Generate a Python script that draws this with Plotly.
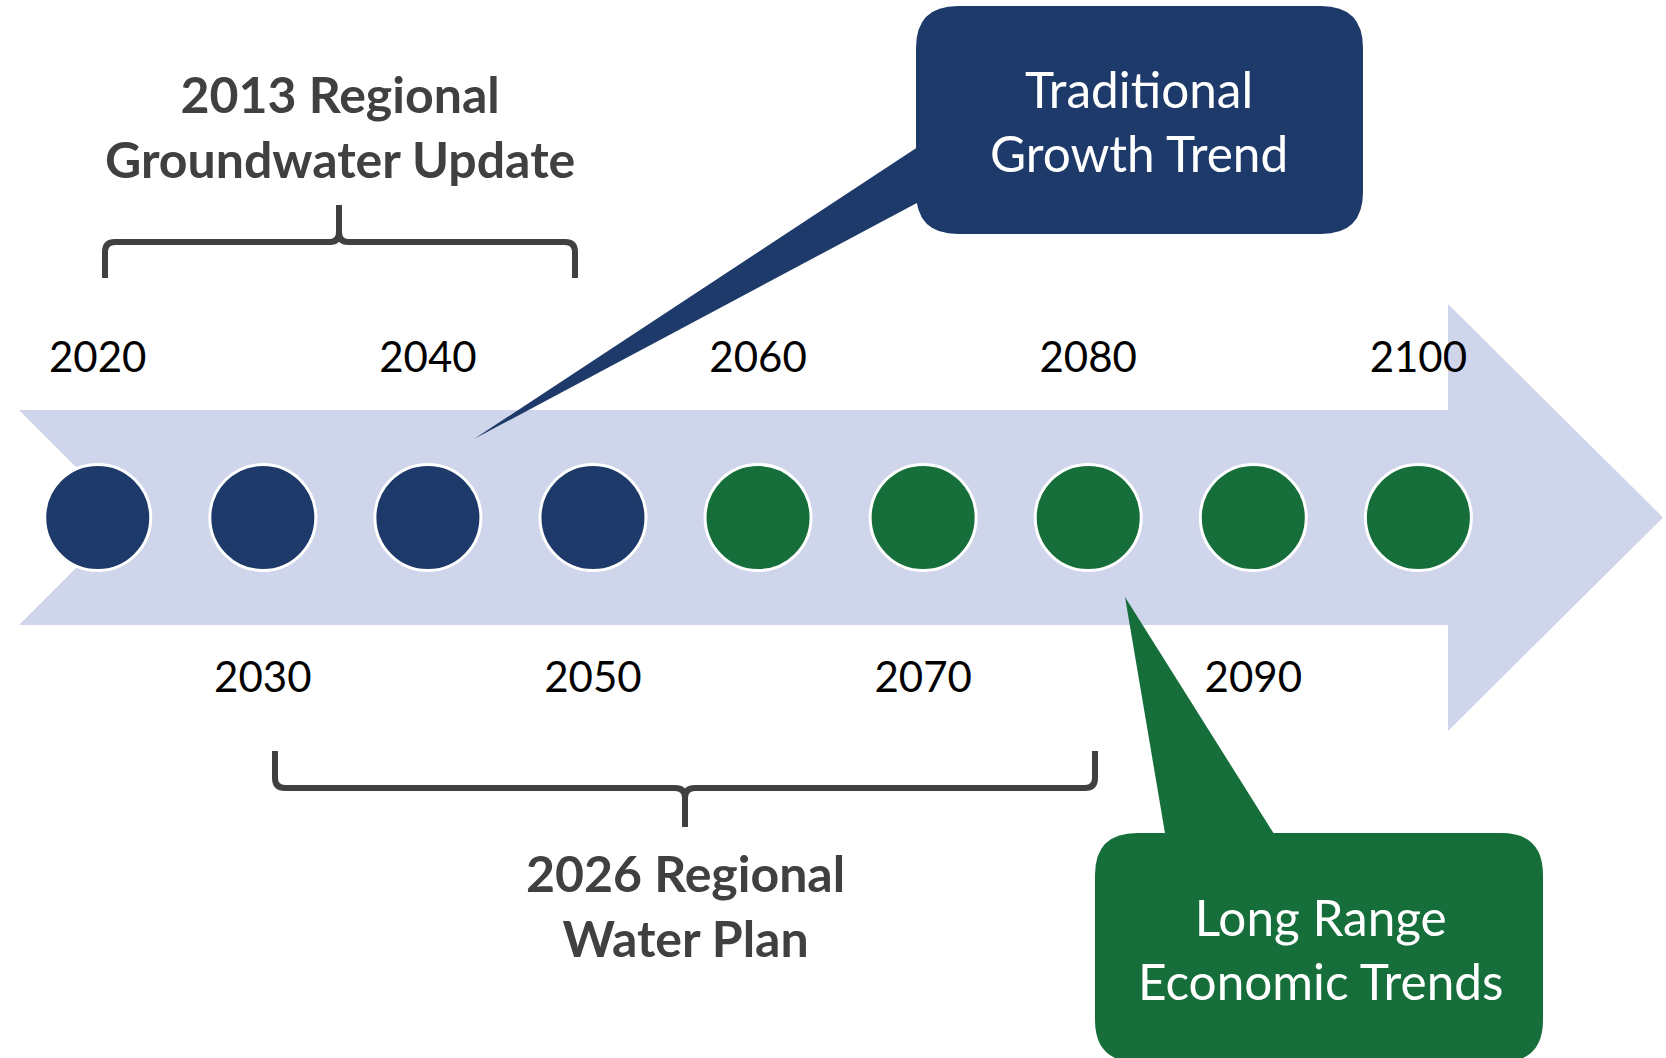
import plotly.graph_objects as go

W, H = 1666, 1058

# Timeline milestones
years = [2020, 2030, 2040, 2050, 2060, 2070, 2080, 2090, 2100]
phase = ["Traditional"] * 4 + ["Long Range"] * 5
phase_colors = {"Traditional": "#1D3A6A", "Long Range": "#166E3A"}
top_years = [2020, 2040, 2060, 2080, 2100]
bottom_years = [2030, 2050, 2070, 2090]
brace_labels = ["2013 Regional<br>Groundwater Update", "2026 Regional<br>Water Plan"]
callout_labels = ["Traditional<br>Growth Trend", "Long Range<br>Economic Trends"]

ARROW = "#CFD5EA"
GREY = "#404040"
FONT = "Lato"

# vertical layout (pixel rows)
Y_AXIS = 517.5
Y_TOP_LABEL = 361
Y_BOTTOM_LABEL = 681

fig = go.Figure()

# milestone circles
fig.add_trace(go.Scatter(
    x=years, y=[Y_AXIS] * len(years), mode="markers",
    marker=dict(size=106, color=[phase_colors[p] for p in phase],
                line=dict(color="white", width=3)),
    hoverinfo="skip", showlegend=False,
))

# year labels above and below the arrow
fig.add_trace(go.Scatter(
    x=top_years, y=[Y_TOP_LABEL] * len(top_years), mode="text",
    text=[str(y) for y in top_years], textposition="middle center",
    textfont=dict(family=FONT, size=42, color="#000000"),
    hoverinfo="skip", showlegend=False,
))
fig.add_trace(go.Scatter(
    x=bottom_years, y=[Y_BOTTOM_LABEL] * len(bottom_years), mode="text",
    text=[str(y) for y in bottom_years], textposition="middle center",
    textfont=dict(family=FONT, size=42, color="#000000"),
    hoverinfo="skip", showlegend=False,
))


def rounded_rect(x0, y0, x1, y1, r):
    return (f"M {x0+r},{y0} L {x1-r},{y0} Q {x1},{y0} {x1},{y0+r} "
            f"L {x1},{y1-r} Q {x1},{y1} {x1-r},{y1} L {x0+r},{y1} "
            f"Q {x0},{y1} {x0},{y1-r} L {x0},{y0+r} Q {x0},{y0} {x0+r},{y0} Z")


shapes = []
# big background arrow
shapes.append(dict(
    type="path", xref="x2", yref="y", layer="below",
    path=("M 19,410 L 1448,410 L 1448,304 L 1663,517.5 L 1448,731 "
          "L 1448,625 L 19,625 L 126.5,517.5 Z"),
    fillcolor=ARROW, line=dict(width=0),
))
# navy callout
navy = phase_colors["Traditional"]
shapes.append(dict(type="path", xref="x2", yref="y", layer="below",
                   path="M 930,139 L 930,196 L 474,439 Z",
                   fillcolor=navy, line=dict(width=0)))
shapes.append(dict(type="path", xref="x2", yref="y", layer="below",
                   path=rounded_rect(916, 6, 1363, 234, 42),
                   fillcolor=navy, line=dict(width=0)))
# green callout
green = phase_colors["Long Range"]
shapes.append(dict(type="path", xref="x2", yref="y", layer="below",
                   path="M 1167,845 L 1281,845 L 1125,597 Z",
                   fillcolor=green, line=dict(width=0)))
shapes.append(dict(type="path", xref="x2", yref="y", layer="below",
                   path=rounded_rect(1095, 833, 1543, 1062, 42),
                   fillcolor=green, line=dict(width=0)))
# top brace
shapes.append(dict(
    type="path", xref="x2", yref="y", layer="below",
    path=("M 105,278 L 105,252 Q 105,242 115,242 L 330,242 Q 339,242 339,232 "
          "L 339,205 M 339,232 Q 339,242 348,242 L 565,242 Q 575,242 575,252 L 575,278"),
    line=dict(color=GREY, width=6),
))
# bottom brace
shapes.append(dict(
    type="path", xref="x2", yref="y", layer="below",
    path=("M 275,751 L 275,778 Q 275,788 285,788 L 675,788 Q 685,788 685,798 "
          "L 685,827 M 685,798 Q 685,788 695,788 L 1085,788 Q 1095,788 1095,778 L 1095,751"),
    line=dict(color=GREY, width=6),
))

annotations = [
    dict(x=340, y=126, xref="x2", yref="y", text=brace_labels[0], showarrow=False,
         font=dict(family=FONT, size=50, color=GREY, weight="bold"), align="center"),
    dict(x=685, y=905, xref="x2", yref="y", text=brace_labels[1], showarrow=False,
         font=dict(family=FONT, size=50, color=GREY, weight="bold"), align="center"),
    dict(x=1139, y=121, xref="x2", yref="y", text=callout_labels[0], showarrow=False,
         font=dict(family=FONT, size=49.5, color="white"), align="center"),
    dict(x=1320, y=949, xref="x2", yref="y", text=callout_labels[1], showarrow=False,
         font=dict(family=FONT, size=49.5, color="white"), align="center"),
]

fig.update_layout(
    width=W, height=H,
    margin=dict(l=0, r=0, t=0, b=0),
    paper_bgcolor="white", plot_bgcolor="white",
    xaxis=dict(range=[2014.079, 2115.0], visible=False, fixedrange=True),
    xaxis2=dict(range=[0, W], visible=False, overlaying="x", fixedrange=True),
    yaxis=dict(range=[H, 0], visible=False, fixedrange=True),
    shapes=shapes,
    annotations=annotations,
    showlegend=False,
)

fig.write_html("out.html")
